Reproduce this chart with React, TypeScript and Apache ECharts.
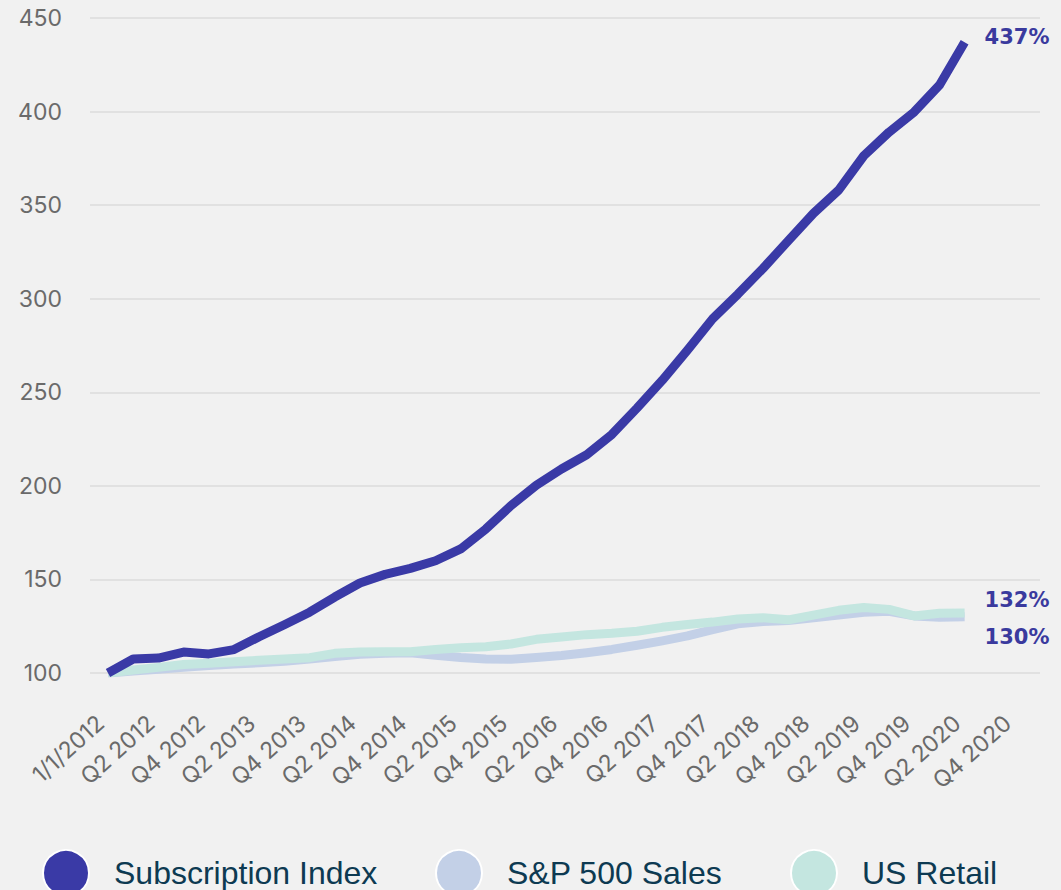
import React, { useEffect, useRef } from "react";
import * as echarts from "echarts";

const categories = [
  "1/1/2012",
  "Q1 2012", "Q2 2012", "Q3 2012", "Q4 2012",
  "Q1 2013", "Q2 2013", "Q3 2013", "Q4 2013",
  "Q1 2014", "Q2 2014", "Q3 2014", "Q4 2014",
  "Q1 2015", "Q2 2015", "Q3 2015", "Q4 2015",
  "Q1 2016", "Q2 2016", "Q3 2016", "Q4 2016",
  "Q1 2017", "Q2 2017", "Q3 2017", "Q4 2017",
  "Q1 2018", "Q2 2018", "Q3 2018", "Q4 2018",
  "Q1 2019", "Q2 2019", "Q3 2019", "Q4 2019",
  "Q1 2020", "Q2 2020", "Q3 2020", "Q4 2020",
];

const subscriptionIndex = [
  100, 107.5, 108, 111.2, 110.2, 112.5, 119.4, 125.8, 132.5, 140.6, 148.1, 152.7,
  155.9, 160, 166.3, 177, 189.5, 200.3, 209, 216.6, 227.5, 241.6, 256.4, 272.5,
  289.3, 302.4, 316.2, 331, 345.6, 358, 376.4, 389, 399.8, 414.1, 437,
];

const sp500Sales = [
  100, 101, 102, 103, 104, 104.8, 105.5, 106.3, 107.5, 108.8, 110, 110.6,
  110.8, 109.5, 108.3, 107.5, 107.3, 108.3, 109.3, 110.8, 112.6, 114.8, 117.2, 119.8,
  123.2, 126.3, 127.5, 128, 129.5, 131, 132.5, 133, 130.5, 129.8, 130,
];

const usRetail = [
  100, 101.6, 103, 104.5, 105.2, 106, 106.8, 107.5, 108.2, 110.5, 111.2, 111.4,
  111.4, 112.5, 113.5, 114, 115.5, 118, 119.2, 120.5, 121.2, 122.3, 124.4, 125.9,
  127.2, 128.9, 129.5, 128.4, 130.9, 133.5, 135, 134, 130.5, 131.9, 132,
];

const yTicks = { min: 100, max: 450, interval: 50 };

const COLORS = {
  subscription: "#3a3aa6",
  sp500: "#c3d0e7",
  retail: "#c4e6e0",
  label: "#3a3a9e",
  axisText: "#6a6a6a",
  grid: "#e1e1e1",
  legendText: "#0d3a52",
  bg: "#f1f1f1",
};

export default function App() {
  const ref = useRef<HTMLDivElement>(null);

  useEffect(() => {
    if (!ref.current) return;
    const chart = echarts.init(ref.current, undefined, { renderer: "svg" });

    const endLabel = (offset: number[]) => ({
      show: true,
      formatter: (p: any) => `${Math.round(p.value)}%`,
      color: COLORS.label,
      fontFamily: "DejaVu Sans",
      fontWeight: "bold",
      fontSize: 21,
      distance: 0,
      offset,
    });

    const legendBase = {
      orient: "horizontal",
      top: 849,
      padding: 0,
      icon: "circle",
      itemWidth: 46,
      itemHeight: 46,
      selectedMode: false,
      itemStyle: { borderColor: "#ffffff", borderWidth: 2 },
      textStyle: {
        fontFamily: "Liberation Sans, Arial, sans-serif",
        fontSize: 32,
        lineHeight: 30,
        color: COLORS.legendText,
        padding: [0, 0, 0, 20],
      },
    };

    chart.setOption({
      animation: false,
      backgroundColor: COLORS.bg,
      grid: [
        { left: 90, right: 21, top: 18, bottom: 217 },
        { left: 108, right: 46, top: 18, bottom: 217 },
      ],
      xAxis: [
        { type: "value", gridIndex: 0, show: false, min: 0, max: 1 },
        {
          type: "category",
          gridIndex: 1,
          data: categories,
          boundaryGap: false,
          axisLine: { show: false },
          axisTick: { show: false },
          splitLine: { show: false },
          axisLabel: {
            interval: 1,
            rotate: 42,
            margin: 40,
            padding: [0, 10, 0, 0],
            fontFamily: "Inter, sans-serif",
            fontSize: 23,
            color: COLORS.axisText,
          },
        },
      ],
      yAxis: [
        {
          type: "value",
          gridIndex: 0,
          min: yTicks.min,
          max: yTicks.max,
          interval: yTicks.interval,
          axisLine: { show: false },
          axisTick: { show: false },
          splitLine: { show: true, lineStyle: { color: COLORS.grid, width: 2 } },
          axisLabel: {
            margin: 28,
            fontFamily: "Inter, sans-serif",
            fontSize: 23,
            color: COLORS.axisText,
          },
        },
        {
          type: "value",
          gridIndex: 1,
          min: yTicks.min,
          max: yTicks.max,
          interval: yTicks.interval,
          show: false,
          splitLine: { show: false },
        },
      ],
      legend: [
        { ...legendBase, left: 42, data: ["Subscription Index"] },
        { ...legendBase, left: 435, data: ["S&P 500 Sales"] },
        { ...legendBase, left: 790, data: ["US Retail"] },
      ],
      series: [
        {
          name: "S&P 500 Sales",
          type: "line",
          xAxisIndex: 1,
          yAxisIndex: 1,
          data: sp500Sales,
          showSymbol: false,
          symbol: "none",
          color: COLORS.sp500,
          lineStyle: { color: COLORS.sp500, width: 9, join: "round" },
          endLabel: endLabel([20, 20]),
          z: 2,
        },
        {
          name: "US Retail",
          type: "line",
          xAxisIndex: 1,
          yAxisIndex: 1,
          data: usRetail,
          showSymbol: false,
          symbol: "none",
          color: COLORS.retail,
          lineStyle: { color: COLORS.retail, width: 9, join: "round" },
          endLabel: endLabel([20, -13]),
          z: 3,
        },
        {
          name: "Subscription Index",
          type: "line",
          xAxisIndex: 1,
          yAxisIndex: 1,
          data: subscriptionIndex,
          showSymbol: false,
          symbol: "none",
          color: COLORS.subscription,
          lineStyle: { color: COLORS.subscription, width: 9, join: "round" },
          endLabel: endLabel([20, -5]),
          z: 4,
        },
      ],
    });

    return () => chart.dispose();
  }, []);

  return (
    <div
      ref={ref}
      style={{
        position: "fixed",
        left: 0,
        top: 0,
        width: 1061,
        height: 890,
        background: COLORS.bg,
      }}
    />
  );
}
